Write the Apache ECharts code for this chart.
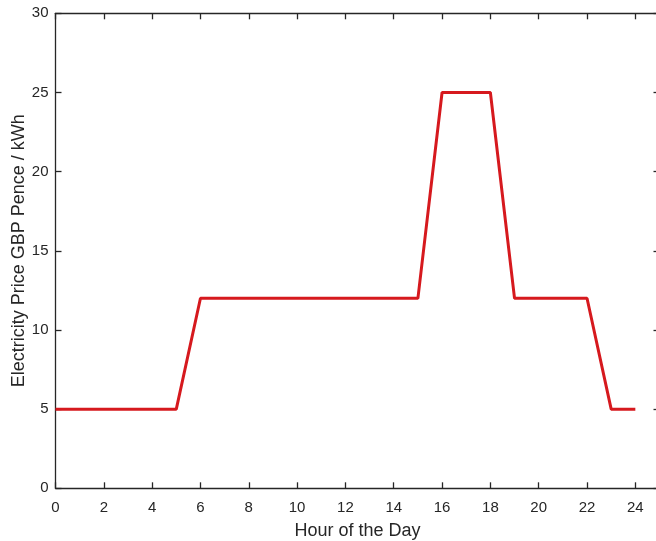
<!DOCTYPE html>
<html>
<head>
<meta charset="utf-8">
<script src="https://cdn.jsdelivr.net/npm/echarts@6/dist/echarts.min.js"></script>
<style>
html,body{margin:0;padding:0;background:#fff;}
#main{width:656px;height:541px;}
</style>
</head>
<body>
<div id="main"></div>
<script>
const hours = [0, 5, 6, 15, 16, 18, 19, 22, 23, 24];
const prices = [5, 5, 12, 12, 25, 25, 12, 12, 5, 5];
const xTitle = 'Hour of the Day';
const yTitle = 'Electricity Price GBP Pence / kWh';

const axisColor = '#262626';
const font = 'Liberation Sans, Arial, Helvetica, sans-serif';
const chart = echarts.init(document.getElementById('main'), null, {renderer: 'canvas'});

const baseAxis = {
  axisLine: {show: true, onZero: false, lineStyle: {color: axisColor, width: 1.3}},
  axisTick: {show: true, inside: true, length: 6, lineStyle: {color: axisColor, width: 1.3}},
  splitLine: {show: false}
};

chart.setOption({
  animation: false,
  backgroundColor: '#ffffff',
  grid: {left: 55.5, top: 13.3, width: 604, height: 475, containLabel: false, outerBoundsMode: 'none'},
  xAxis: [
    Object.assign({}, baseAxis, {
      type: 'value', min: 0, max: 25, interval: 2, position: 'bottom',
      name: xTitle, nameLocation: 'middle', nameGap: 34, nameMoveOverlap: false,
      nameTextStyle: {color: axisColor, fontSize: 18, fontFamily: font},
      axisLabel: {color: axisColor, fontSize: 15, fontFamily: font, margin: 12,
        formatter: v => (v > 24 ? '' : String(v))}
    }),
    Object.assign({}, baseAxis, {
      type: 'value', min: 0, max: 25, interval: 2, position: 'top',
      axisLabel: {show: false}
    })
  ],
  yAxis: [
    Object.assign({}, baseAxis, {
      type: 'value', min: 0, max: 30, interval: 5, position: 'left',
      name: yTitle, nameLocation: 'middle', nameGap: 27, nameMoveOverlap: false,
      nameTextStyle: {color: axisColor, fontSize: 18, fontFamily: font},
      axisLabel: {color: axisColor, fontSize: 15, fontFamily: font, margin: 7}
    }),
    Object.assign({}, baseAxis, {
      type: 'value', min: 0, max: 30, interval: 5, position: 'right',
      axisLabel: {show: false}
    })
  ],
  series: [{
    type: 'line',
    data: hours.map((h, i) => [h, prices[i]]),
    symbol: 'none',
    lineStyle: {color: '#d6191e', width: 3},
    xAxisIndex: 0, yAxisIndex: 0
  }]
});
</script>
</body>
</html>
